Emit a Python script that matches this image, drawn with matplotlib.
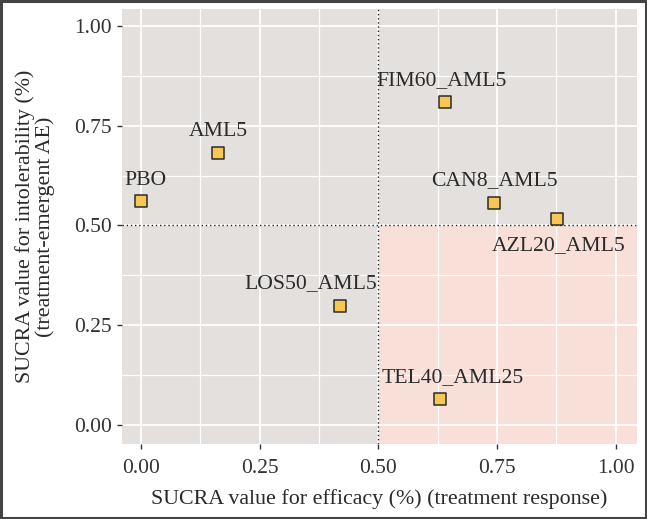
import matplotlib.pyplot as plt
from matplotlib.patches import Rectangle
import numpy as np

# SUCRA values
treatments = ['PBO', 'AML5', 'FIM60_AML5', 'CAN8_AML5', 'AZL20_AML5', 'LOS50_AML5', 'TEL40_AML25']
efficacy = [0.0, 0.163, 0.640, 0.744, 0.877, 0.419, 0.630]
intolerability = [0.561, 0.682, 0.810, 0.557, 0.517, 0.299, 0.065]

# label offsets (pixels) relative to each point
label_dx = [5, 0, -3, 0, 1, -29, 13]
label_dy = [21, 21, 21, 22, -27, 22, 21]

ticks = [0.0, 0.25, 0.5, 0.75, 1.0]
tick_labels = ['0.00', '0.25', '0.50', '0.75', '1.00']

plt.rcParams['font.family'] = ['Liberation Serif', 'DejaVu Serif']

fig = plt.figure(figsize=(6.47, 5.19), dpi=100)
ax = fig.add_axes([0.189, 0.1445, 0.795, 0.8385])

xlim = (-0.039, 1.044)
ylim = (-0.048, 1.043)
ax.set_xlim(xlim)
ax.set_ylim(ylim)
ax.set_facecolor('#e4e0de')

# highlighted quadrant: high efficacy, low intolerability
ax.add_patch(Rectangle((0.5, ylim[0]), xlim[1] - 0.5, 0.5 - ylim[0],
                       facecolor='#f8dfd8', edgecolor='none', zorder=0.5))

ax.set_xticks(ticks)
ax.set_xticklabels(tick_labels)
ax.set_yticks(ticks)
ax.set_yticklabels(tick_labels)
ax.set_xticks(np.arange(0.125, 1.0, 0.25), minor=True)
ax.set_yticks(np.arange(0.125, 1.0, 0.25), minor=True)
ax.grid(which='major', color='white', linewidth=1.3, zorder=1)
ax.grid(which='minor', color='white', linewidth=0.9, zorder=1)
ax.set_axisbelow(True)
ax.tick_params(which='major', length=3.5, width=1, color='#333333',
               labelsize=15.5, labelcolor='#333333', pad=4)
ax.tick_params(axis='x', which='major', pad=7)
ax.tick_params(which='minor', length=0)
for s in ax.spines.values():
    s.set_visible(False)

ax.axvline(0.5, color='#222222', linewidth=1.0, linestyle=(0, (1, 2)), zorder=2)
ax.axhline(0.5, color='#222222', linewidth=1.0, linestyle=(0, (1, 2)), zorder=2)

ax.scatter(efficacy, intolerability, marker='s', s=85, facecolor='#f7c653',
           edgecolor='#2b2b2b', linewidth=1.1, zorder=3)

for name, x, y, dx, dy in zip(treatments, efficacy, intolerability, label_dx, label_dy):
    ax.annotate(name, (x, y), xytext=(dx, dy), textcoords='offset pixels',
                ha='center', va='center', fontsize=15.6, color='#2a2a2a', zorder=4)

ax.set_xlabel('SUCRA value for efficacy (%) (treatment response)',
              fontsize=15.8, color='#2a2a2a', labelpad=8)
ax.set_ylabel('SUCRA value for intolerability (%)\n(treatment-emergent AE)',
              fontsize=15.8, color='#2a2a2a', labelpad=14, linespacing=1.0)

# outer frame around the whole figure
fig.patches.append(Rectangle((0.0015, 0.002), 0.997, 0.996, transform=fig.transFigure,
                             fill=False, edgecolor='#444444', linewidth=2.2))

fig.savefig('out.png', dpi=100)
